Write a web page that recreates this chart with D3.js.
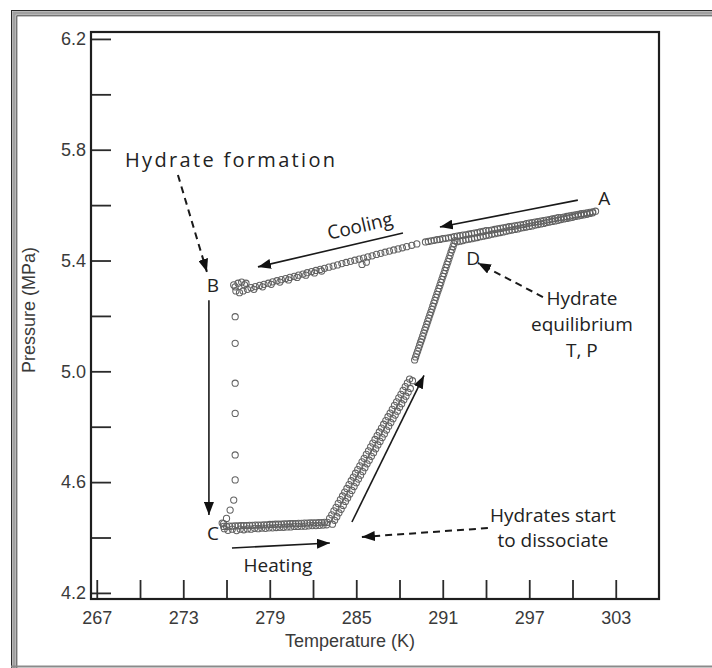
<!DOCTYPE html>
<html>
<head>
<meta charset="utf-8">
<script src="https://cdn.jsdelivr.net/npm/d3@7/dist/d3.min.js"></script>
<style>
  html, body { margin: 0; padding: 0; background: #fff; }
  svg { display: block; }
</style>
</head>
<body>
<svg id="chart" width="712" height="668"></svg>
<script>
// ---- Tick values and labels ----
const xTicks = [267, 270, 273, 276, 279, 282, 285, 288, 291, 294, 297, 300, 303];
const xLabels = [267, 273, 279, 285, 291, 297, 303];
const yTicks = [4.2, 4.4, 4.6, 4.8, 5.0, 5.2, 5.4, 5.6, 5.8, 6.0, 6.2];
const yLabels = [4.2, 4.6, 5.0, 5.4, 5.8, 6.2];

// ---- Measured points: [temperature K, pressure MPa] ----
// Cooling from A down to the hydrate equilibrium point D and a little beyond
const coolingUpper = [
  [301.6,5.578],[301.4,5.576],[301.2,5.574],[301.0,5.572],[300.8,5.570],[300.6,5.569],
  [300.4,5.567],[300.2,5.565],[300.0,5.563],[299.8,5.561],[299.6,5.559],[299.4,5.557],
  [299.2,5.555],[299.0,5.555],[298.8,5.552],[298.6,5.550],[298.4,5.548],[298.2,5.546],
  [298.0,5.544],[297.8,5.542],[297.6,5.540],[297.4,5.539],[297.2,5.537],[297.0,5.535],
  [296.8,5.533],[296.6,5.530],[296.4,5.529],[296.2,5.527],[296.0,5.525],[295.8,5.523],
  [295.6,5.522],[295.4,5.520],[295.2,5.518],[295.0,5.516],[294.8,5.514],[294.6,5.512],
  [294.4,5.510],[294.2,5.508],[294.0,5.508],[293.8,5.505],[293.6,5.503],[293.4,5.501],
  [293.2,5.499],[293.0,5.497],[292.8,5.495],[292.6,5.493],[292.4,5.492],[292.2,5.490],
  [292.0,5.488],[291.8,5.486],[291.6,5.484],[291.4,5.482],[291.2,5.480],[291.0,5.479],
  [290.8,5.476],[290.6,5.475],[290.4,5.473],[290.2,5.471],[290.0,5.469],[289.8,5.467]
];
// Cooling continued from D towards B (steeper branch)
const coolingLower = [
  [289.2,5.460],[288.85,5.455],[288.5,5.450],[288.2,5.446],[287.9,5.442],[287.6,5.438],
  [287.3,5.434],[287.0,5.430],[286.7,5.426],[286.4,5.422],[286.1,5.417],[285.8,5.413],
  [285.7,5.394],[285.5,5.409],[285.4,5.386],[285.2,5.405],[284.9,5.401],[284.6,5.397],
  [284.3,5.393],[284.0,5.389],[283.7,5.384],[283.4,5.380],[283.1,5.376],[282.8,5.372],
  [282.5,5.368],[282.2,5.364],[281.9,5.360],[281.6,5.356],[281.3,5.351],[281.0,5.347],
  [280.7,5.343],[280.4,5.339],[280.1,5.335],[279.8,5.331],[279.5,5.327],[279.2,5.323],
  [278.9,5.318],[278.6,5.314],[278.3,5.310],[278.0,5.306],[277.7,5.302],
  [282.6,5.362],[282.1,5.355],[281.5,5.347],[280.9,5.339],[280.3,5.330],[279.7,5.322],
  [279.1,5.314],[278.5,5.305],[277.9,5.296]
];
// Hydrate formation at B
const formationB = [
  [277.45,5.296],[277.25,5.312],[277.05,5.322],[276.8,5.318],[276.6,5.305],
  [276.65,5.290],[276.9,5.284],[277.15,5.290],[277.35,5.318],[276.5,5.312]
];
// Pressure drop from B to C during hydrate growth
const dropBC = [
  [276.6,5.197],[276.6,5.101],[276.6,4.957],[276.6,4.848],[276.6,4.698],
  [276.6,4.608],[276.5,4.535],[276.25,4.499],[276.0,4.469],[275.8,4.450]
];
// Heating from C at almost constant pressure
const heatingFlat = [
  [275.8,4.440],[276.0,4.440],[276.2,4.441],[276.4,4.441],[276.6,4.442],[276.8,4.442],
  [277.0,4.443],[277.2,4.443],[277.4,4.443],[277.6,4.444],[277.8,4.444],[278.0,4.445],
  [278.2,4.445],[278.4,4.445],[278.6,4.446],[278.8,4.446],[279.0,4.447],[279.2,4.447],
  [279.4,4.448],[279.6,4.448],[279.8,4.448],[280.0,4.449],[280.2,4.449],[280.4,4.450],
  [280.6,4.450],[280.8,4.450],[281.0,4.451],[281.2,4.451],[281.4,4.452],[281.6,4.452],
  [281.8,4.453],[282.0,4.453],[282.2,4.453],[282.4,4.454],[282.6,4.454],[282.8,4.455],
  [283.0,4.455],
  [275.7,4.452],[275.85,4.432],[276.1,4.426],[276.4,4.430],[276.7,4.425],
  [276.95,4.430],[277.2,4.428],[277.45,4.431],[277.7,4.430],[277.95,4.433],[278.2,4.432],
  [278.45,4.434],[278.7,4.433],[278.95,4.435],[279.2,4.435],[279.45,4.436],[279.7,4.437],
  [279.95,4.437],[280.2,4.438],[280.45,4.438],[280.7,4.440],[280.95,4.440],[281.2,4.441],
  [281.45,4.441],[281.7,4.442],[281.95,4.443],[282.2,4.443],[282.45,4.444],[282.7,4.445],
  [282.95,4.446]
];
// Pressure rise as hydrates dissociate (first stretch, two runs)
const riseFirst = [
  [283.15,4.469],[283.30,4.482],[283.45,4.496],[283.60,4.509],[283.75,4.523],[283.90,4.537],
  [284.05,4.550],[284.20,4.564],[284.35,4.577],[284.50,4.591],[284.65,4.605],[284.80,4.618],
  [284.95,4.632],[285.10,4.645],[285.25,4.659],[285.40,4.673],[285.55,4.686],[285.70,4.700],
  [285.85,4.713],[286.00,4.727],[286.15,4.741],[286.30,4.754],[286.45,4.768],[286.60,4.781],
  [286.75,4.795],[286.90,4.809],[287.05,4.822],[287.20,4.836],[287.35,4.849],[287.50,4.863],
  [287.65,4.877],[287.80,4.890],[287.95,4.904],[288.10,4.917],[288.25,4.931],[288.40,4.945],
  [288.55,4.958],[288.70,4.972],
  [283.35,4.448],[283.50,4.462],[283.65,4.475],[283.80,4.489],[283.95,4.502],[284.10,4.516],
  [284.25,4.530],[284.40,4.543],[284.55,4.557],[284.70,4.570],[284.85,4.584],[285.00,4.598],
  [285.15,4.611],[285.30,4.625],[285.45,4.638],[285.60,4.652],[285.75,4.666],[285.90,4.679],
  [286.05,4.693],[286.20,4.706],[286.35,4.720],[286.50,4.734],[286.65,4.747],[286.80,4.761],
  [286.95,4.774],[287.10,4.788],[287.25,4.802],[287.40,4.815],[287.55,4.829],[287.70,4.842],
  [287.85,4.856],[288.00,4.870],[288.15,4.883],[288.30,4.897],[288.45,4.910],[288.60,4.924],
  [288.75,4.938],[288.90,4.966]
];
// Pressure rise up to the equilibrium point D
const riseSecond = [
  [289.05,5.041],[289.12,5.052],[289.19,5.063],[289.26,5.073],[289.33,5.084],[289.40,5.095],
  [289.47,5.106],[289.54,5.116],[289.61,5.127],[289.68,5.138],[289.75,5.149],[289.82,5.159],
  [289.89,5.170],[289.96,5.181],[290.03,5.192],[290.10,5.203],[290.17,5.213],[290.24,5.224],
  [290.31,5.235],[290.38,5.246],[290.45,5.256],[290.52,5.267],[290.59,5.278],[290.66,5.289],
  [290.73,5.299],[290.80,5.310],[290.87,5.321],[290.94,5.332],[291.01,5.343],[291.08,5.353],
  [291.15,5.364],[291.22,5.375],[291.29,5.386],[291.36,5.396],[291.43,5.407],[291.50,5.418],
  [291.57,5.429],[291.64,5.439],[291.71,5.450],[291.78,5.461],[291.85,5.472]
];
// Heating from D back to A
const heatingUpper = [
  [292.0,5.468],[292.2,5.470],[292.4,5.472],[292.6,5.475],[292.8,5.477],[293.0,5.479],
  [293.2,5.481],[293.4,5.483],[293.6,5.486],[293.8,5.488],[294.0,5.490],[294.2,5.492],
  [294.4,5.495],[294.6,5.497],[294.8,5.499],[295.0,5.501],[295.2,5.503],[295.4,5.506],
  [295.6,5.508],[295.8,5.510],[296.0,5.512],[296.2,5.514],[296.4,5.517],[296.6,5.519],
  [296.8,5.521],[297.0,5.523],[297.2,5.525],[297.4,5.528],[297.6,5.530],[297.8,5.532],
  [298.0,5.534],[298.2,5.537],[298.4,5.539],[298.6,5.541],[298.8,5.543],[299.0,5.545],
  [299.2,5.548],[299.4,5.550],[299.6,5.552],[299.8,5.554],[300.0,5.556],[300.2,5.559],
  [300.4,5.561],[300.6,5.563],[300.8,5.565],[301.0,5.567],[301.2,5.570],[301.4,5.572]
];

// ---- Annotations (positions in data units) ----
const pointLabels = [
  { text: "A", T: 302.2, P: 5.626 },
  { text: "B", T: 275.06, P: 5.312 },
  { text: "C", T: 275.06, P: 4.416 },
  { text: "D", T: 293.1, P: 5.409 }
];
const noteLines = [
  { text: "Hydrate", T: 300.65, P: 5.265 },
  { text: "equilibrium", T: 300.65, P: 5.171 },
  { text: "T, P", T: 300.65, P: 5.077 },
  { text: "Hydrates start", T: 298.64, P: 4.481 },
  { text: "to dissociate", T: 298.64, P: 4.391 },
  { text: "Heating", T: 279.57, P: 4.301 }
];
const arrowsSolid = [
  { from: [274.78, 5.257], to: [274.78, 4.481] },   // B -> C
  { from: [288.24, 5.499], to: [278.18, 5.377] },   // cooling
  { from: [300.37, 5.618], to: [290.80, 5.521] },   // from A
  { from: [276.38, 4.362], to: [283.17, 4.380] },   // heating
  { from: [284.70, 4.456], to: [289.70, 4.985] }    // pressure rise
];
const arrowsDashed = [
  { from: [272.63, 5.709], to: [274.64, 5.359] },   // hydrate formation
  { from: [297.95, 5.268], to: [293.44, 5.391] },   // equilibrium point
  { from: [294.13, 4.434], to: [285.39, 4.402] }    // start of dissociation
];

// ---- Layout ----
const W = 712, H = 668;
const margin = { top: 32, right: 53, bottom: 69, left: 91 };
const x = d3.scaleLinear().domain([266.6, 306.0]).range([margin.left, W - margin.right]);
const y = d3.scaleLinear().domain([4.178, 6.225]).range([H - margin.bottom, margin.top]);

const svg = d3.select("#chart");

// Picture frame
svg.append("rect").attr("x", 11.5).attr("y", 10.5).attr("width", 720).attr("height", 670)
  .attr("fill", "none").attr("stroke", "#2a2a2a").attr("stroke-width", 1);
svg.append("rect").attr("x", 14).attr("y", 13).attr("width", 720).attr("height", 670)
  .attr("fill", "none").attr("stroke", "#a0a0a0").attr("stroke-width", 3.5);
svg.append("rect").attr("x", 16.8).attr("y", 15.8).attr("width", 720).attr("height", 670)
  .attr("fill", "none").attr("stroke", "#3a3a3a").attr("stroke-width", 1);
svg.append("line").attr("x1", 11).attr("x2", W).attr("y1", 666.5).attr("y2", 666.5)
  .attr("stroke", "#8a8a8a").attr("stroke-width", 2);

// Axes (ticks point inward)
const fmt = d3.format(".1f");
const axisFont = "'Liberation Sans', Arial, sans-serif";
const xAxis = svg.append("g")
  .attr("transform", `translate(0,${H - margin.bottom})`)
  .call(d3.axisBottom(x).tickValues(xTicks).tickSize(-19).tickPadding(12)
    .tickFormat(d => xLabels.includes(d) ? d : ""));
const yAxis = svg.append("g")
  .attr("transform", `translate(${margin.left},0)`)
  .call(d3.axisLeft(y).tickValues(yTicks).tickSize(-20).tickPadding(5)
    .tickFormat(d => yLabels.some(v => Math.abs(v - d) < 1e-6) ? fmt(d) : ""));
[xAxis, yAxis].forEach(g => {
  g.select(".domain").remove();
  g.selectAll(".tick line").attr("stroke", "#2a2a2a").attr("stroke-width", 1.8);
  g.selectAll(".tick text").attr("fill", "#3a3a3a")
    .style("font-family", axisFont).style("font-size", "18px");
});

// Plot box
svg.append("rect")
  .attr("x", margin.left).attr("y", margin.top)
  .attr("width", W - margin.left - margin.right)
  .attr("height", H - margin.top - margin.bottom)
  .attr("fill", "none").attr("stroke", "#1e1e1e").attr("stroke-width", 2.2);

// Axis titles
svg.append("text").attr("x", 350).attr("y", 647).attr("text-anchor", "middle")
  .attr("fill", "#3a3a3a").style("font-family", axisFont)
  .style("font-size", "18px").text("Temperature (K)");
svg.append("text").attr("transform", "translate(35,310) rotate(-90)").attr("text-anchor", "middle")
  .attr("fill", "#3a3a3a").style("font-family", axisFont)
  .style("font-size", "18px").text("Pressure (MPa)");

// Data points
const allPoints = [].concat(coolingUpper, coolingLower, formationB, dropBC,
  heatingFlat, riseFirst, riseSecond, heatingUpper);
svg.append("g").selectAll("circle").data(allPoints).join("circle")
  .attr("cx", d => x(d[0])).attr("cy", d => y(d[1])).attr("r", 3.1)
  .attr("fill", "none").attr("stroke", "#626262").attr("stroke-width", 1.05);

// Arrow head marker
svg.append("defs").append("marker")
  .attr("id", "head").attr("markerUnits", "userSpaceOnUse")
  .attr("markerWidth", 14).attr("markerHeight", 10)
  .attr("refX", 13).attr("refY", 5).attr("orient", "auto")
  .append("path").attr("d", "M0,0 L13,5 L0,10 Z").attr("fill", "#111");

const ann = svg.append("g");
ann.selectAll("line.solid").data(arrowsSolid).join("line").attr("class", "solid")
  .attr("x1", d => x(d.from[0])).attr("y1", d => y(d.from[1]))
  .attr("x2", d => x(d.to[0])).attr("y2", d => y(d.to[1]))
  .attr("stroke", "#1a1a1a").attr("stroke-width", 1.6).attr("marker-end", "url(#head)");
ann.selectAll("line.dashed").data(arrowsDashed).join("line").attr("class", "dashed")
  .attr("x1", d => x(d.from[0])).attr("y1", d => y(d.from[1]))
  .attr("x2", d => x(d.to[0])).attr("y2", d => y(d.to[1]))
  .attr("stroke", "#1a1a1a").attr("stroke-width", 2).attr("stroke-dasharray", "7,5")
  .attr("marker-end", "url(#head)");

const noteFont = "'Open Sans', 'Noto Sans', sans-serif";
ann.append("text").attr("x", x(268.96)).attr("y", y(5.763)).attr("dy", "0.35em")
  .attr("textLength", 210).attr("lengthAdjust", "spacing")
  .attr("fill", "#222").style("font-family", noteFont).style("font-size", "20px")
  .text("Hydrate formation");
ann.append("text")
  .attr("transform", `translate(${x(285.25)},${y(5.525)}) rotate(-13)`)
  .attr("text-anchor", "middle").attr("dy", "0.35em")
  .attr("fill", "#222").style("font-family", noteFont).style("font-size", "19px")
  .text("Cooling");
ann.selectAll("text.pt").data(pointLabels).join("text").attr("class", "pt")
  .attr("x", d => x(d.T)).attr("y", d => y(d.P)).attr("dy", "0.35em")
  .attr("text-anchor", "middle").attr("fill", "#222")
  .style("font-family", noteFont).style("font-size", "19px").text(d => d.text);
ann.selectAll("text.note").data(noteLines).join("text").attr("class", "note")
  .attr("x", d => x(d.T)).attr("y", d => y(d.P)).attr("dy", "0.35em")
  .attr("text-anchor", "middle").attr("fill", "#222")
  .style("font-family", noteFont).style("font-size", "19px").text(d => d.text);
</script>
</body>
</html>
